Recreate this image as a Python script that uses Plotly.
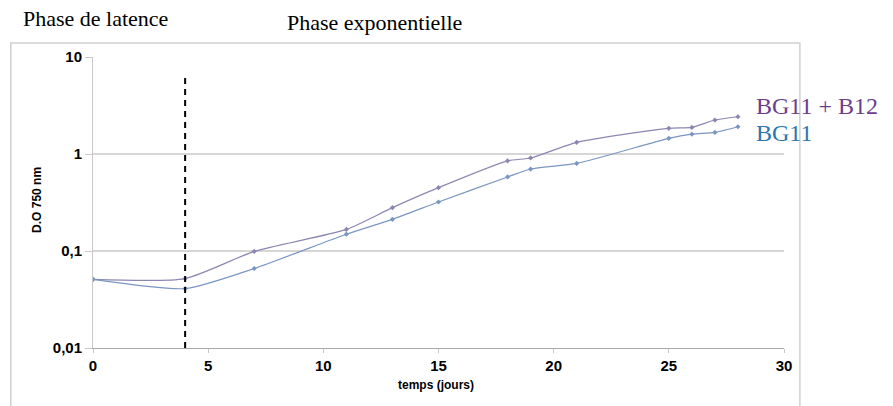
import plotly.graph_objects as go

days = [0, 4, 7, 11, 13, 15, 18, 19, 21, 25, 26, 27, 28]
bg11_b12 = [0.051, 0.052, 0.099, 0.167, 0.28, 0.45, 0.85, 0.91, 1.32, 1.84, 1.88, 2.24, 2.42]
bg11 = [0.051, 0.041, 0.066, 0.149, 0.212, 0.32, 0.58, 0.70, 0.80, 1.45, 1.60, 1.67, 1.91]
x_ticks = [0, 5, 10, 15, 20, 25, 30]
y_ticks = [0.01, 0.1, 1, 10]
y_tick_labels = ["0,01", "0,1", "1", "10"]
lag_end = 4

fig = go.Figure()
fig.add_trace(go.Scatter(x=days, y=bg11_b12, mode="lines+markers", name="BG11 + B12",
                         line=dict(color="#8c86b2", width=1.2, shape="spline", smoothing=0.6),
                         marker=dict(symbol="diamond", size=4, color="#8c86b2")))
fig.add_trace(go.Scatter(x=days, y=bg11, mode="lines+markers", name="BG11",
                         line=dict(color="#7a96c2", width=1.2, shape="spline", smoothing=0.6),
                         marker=dict(symbol="diamond", size=4, color="#7a96c2")))

# vertical dashed line at end of lag phase
fig.add_shape(type="line", xref="x", yref="paper", x0=lag_end, x1=lag_end, y0=0, y1=0.93,
              line=dict(color="black", width=2, dash="6px,5px"))

# outer frame
fig.add_shape(type="rect", xref="paper", yref="paper", x0=-0.119, x1=1.023,
              y0=-0.3, y1=1.048, line=dict(color="#d0d0d0", width=1.5), layer="below")

serif = "Liberation Serif, Times New Roman, serif"
fig.add_annotation(text="Phase de latence", xref="paper", yref="paper", x=-0.104, y=1.134,
                   xanchor="left", yanchor="middle", showarrow=False,
                   font=dict(family=serif, size=22, color="black"))
fig.add_annotation(text="Phase exponentielle", xref="paper", yref="paper", x=0.278, y=1.12,
                   xanchor="left", yanchor="middle", showarrow=False,
                   font=dict(family=serif, size=22, color="black"))
fig.add_annotation(text="BG11 + B12", xref="paper", yref="paper", x=0.957, y=0.83,
                   xanchor="left", yanchor="middle", showarrow=False,
                   font=dict(family=serif, size=24, color="#6b3e8e"))
fig.add_annotation(text="BG11", xref="paper", yref="paper", x=0.957, y=0.738,
                   xanchor="left", yanchor="middle", showarrow=False,
                   font=dict(family=serif, size=24, color="#2a77b0"))
fig.add_annotation(text="<b>D.O 750 nm</b>", xref="paper", yref="paper", x=-0.081, y=0.509,
                   xanchor="center", yanchor="middle", textangle=-90, showarrow=False,
                   font=dict(family="Liberation Sans, Arial", size=12, color="black"))
fig.add_annotation(text="<b>temps (jours)</b>", xref="paper", yref="paper", x=0.496, y=-0.127,
                   xanchor="center", yanchor="middle", showarrow=False,
                   font=dict(family="Liberation Sans, Arial", size=12, color="black"))

fig.update_layout(
    width=893, height=406,
    margin=dict(l=85, r=117, t=49, b=66),
    paper_bgcolor="white", plot_bgcolor="white",
    showlegend=False,
    font=dict(family="Liberation Sans, Arial, sans-serif", color="black"),
    xaxis=dict(range=[0, 30], tickvals=x_ticks, showgrid=False, zeroline=False,
               showline=True, linecolor="#a8a8a8", linewidth=1, automargin=False,
               ticks="outside", ticklen=4, tickcolor="#c8c8c8",
               tickfont=dict(size=15, family="Liberation Sans, Arial", weight="bold")),
    yaxis=dict(type="log", range=[-2, 1], tickvals=y_ticks, ticktext=y_tick_labels,
               showgrid=True, gridcolor="#d6d6d6", gridwidth=1.5, zeroline=False,
               showline=True, linecolor="#c8c8c8", linewidth=1, automargin=False,
               ticks="outside", ticklen=7, tickcolor="#c8c8c8",
               tickfont=dict(size=15, family="Liberation Sans, Arial", weight="bold")),
)

fig.write_html("out.html")
